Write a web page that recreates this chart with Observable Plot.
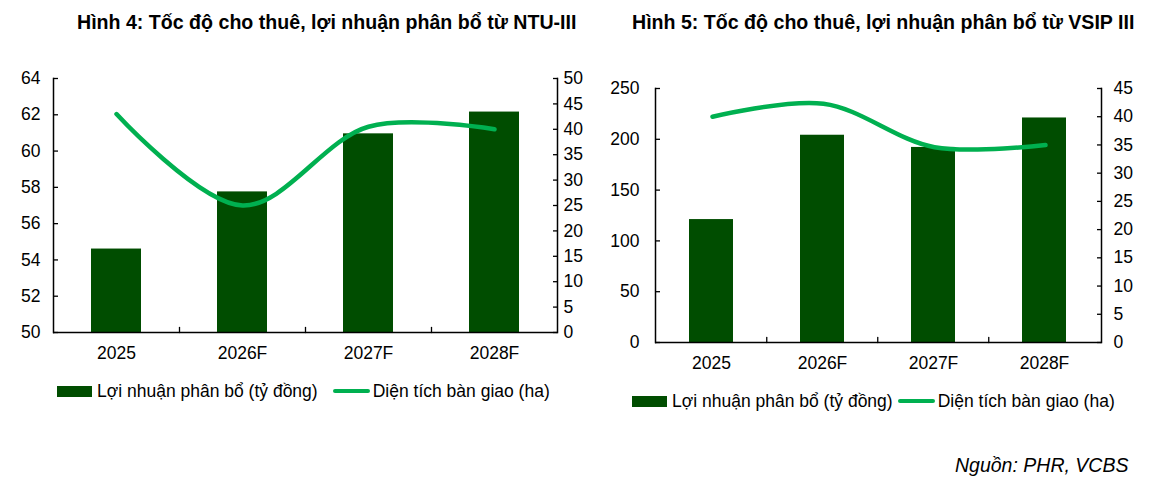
<!DOCTYPE html>
<html><head><meta charset="utf-8">
<script src="https://cdn.jsdelivr.net/npm/d3@7"></script>
<script src="https://cdn.jsdelivr.net/npm/@observablehq/plot@0.6"></script>
<style>
body{margin:0;background:#fff;}
#root{position:relative;width:1153px;height:487px;font-family:"Liberation Sans",Arial,sans-serif;color:#000;overflow:hidden;background:#fff}
.abs{position:absolute}
.title{font-weight:bold;font-size:19.6px;white-space:nowrap;line-height:22px}
.legend{display:flex;align-items:center;font-size:17.5px;white-space:nowrap;height:22px}
.sw-bar{width:35px;height:11px;background:#004d00;margin-right:5px}
.sw-line{width:37px;height:4px;background:#00b050;margin-right:3px;border-radius:2px}
.src{font-style:italic;font-size:19.5px;white-space:nowrap}
svg{overflow:visible}
</style></head><body><div id="root"></div>
<script>
const years = ["2025", "2026F", "2027F", "2028F"];
const ntuProfit = [54.6, 57.75, 60.95, 62.15];
const ntuArea = [43, 25, 40.5, 40];
const vsipProfit = [121, 204, 192, 221];
const vsipArea = [40, 42.3, 34.6, 35];
const ntuLeftTicks = [50, 52, 54, 56, 58, 60, 62, 64];
const ntuRightTicks = [0, 5, 10, 15, 20, 25, 30, 35, 40, 45, 50];
const vsipLeftTicks = [0, 50, 100, 150, 200, 250];
const vsipRightTicks = [0, 5, 10, 15, 20, 25, 30, 35, 40, 45];
const titles = ["Hình 4: Tốc độ cho thuê, lợi nhuận phân bổ từ NTU-III", "Hình 5: Tốc độ cho thuê, lợi nhuận phân bổ từ VSIP III"];
const legendBar = "Lợi nhuận phân bổ (tỷ đồng)";
const legendLine = "Diện tích bàn giao (ha)";
const source = "Nguồn: PHR, VCBS";

const BAR = "#004d00", LINE = "#00b050";
const root = document.getElementById("root");

const tickShape = {draw(ctx, l) { ctx.moveTo(0, 0); ctx.lineTo(0, -l); }};

function chart(cfg) {
  const rows = years.map((y, i) => ({year: y, profit: cfg.profit[i], area: cfg.area[i]}));
  const common = {
    width: cfg.width, height: cfg.height,
    marginLeft: cfg.ml, marginRight: cfg.mr, marginTop: cfg.mt, marginBottom: cfg.mb,
    style: {fontSize: "17.5px", fontFamily: "'Liberation Sans', Arial, sans-serif", color: "#000", background: "transparent", overflow: "visible"}
  };
  const step = (cfg.width - cfg.ml - cfg.mr) / years.length;
  const y0 = cfg.leftTicks[0];
  const p1 = Plot.plot({
    ...common,
    x: {domain: years, paddingInner: 0.6, paddingOuter: 0.3, label: null},
    y: {domain: [y0, cfg.leftTicks[cfg.leftTicks.length - 1]], label: null},
    marks: [
      Plot.barY(rows, {x: "year", y1: y0, y2: "profit", fill: BAR}),
      Plot.axisY(cfg.leftTicks, {anchor: "left", label: null, tickSize: -5, tickPadding: cfg.lpad, strokeWidth: 1.3, tickFormat: d => String(d)}),
      Plot.axisX({label: null, tickSize: 0, tickPadding: 14}),
      Plot.ruleY([y0], {stroke: "#000", strokeWidth: 1.5}),
      Plot.frame({anchor: "left", stroke: "#000", strokeWidth: 1.5}),
      Plot.vector(years.slice(1), {x: d => d, y: y0, length: 5, rotate: 0, anchor: "start", dx: -step / 2, shape: tickShape, stroke: "#000", strokeWidth: 1.3})
    ]
  });
  const p2 = Plot.plot({
    ...common,
    x: {domain: years, paddingInner: 0.6, paddingOuter: 0.3, axis: null, label: null},
    y: {domain: [cfg.rightTicks[0], cfg.rightTicks[cfg.rightTicks.length - 1]], label: null},
    marks: [
      Plot.line(rows, {x: "year", y: "area", curve: "catmull-rom", stroke: LINE, strokeWidth: 4.5}),
      Plot.axisY(cfg.rightTicks, {anchor: "right", label: null, tickSize: -5, tickPadding: cfg.rpad, strokeWidth: 1.3, tickFormat: d => String(d)}),
      Plot.frame({anchor: "right", stroke: "#000", strokeWidth: 1.5})
    ]
  });
  for (const p of [p1, p2]) {
    p.classList.add("abs");
    p.style.left = cfg.left + "px";
    p.style.top = cfg.top + "px";
    root.appendChild(p);
  }
}

chart({left: 0, top: 0, width: 580, height: 360, ml: 53, mr: 23, mt: 78, mb: 28,
  profit: ntuProfit, area: ntuArea, leftTicks: ntuLeftTicks, rightTicks: ntuRightTicks, lpad: 18, rpad: 11});
chart({left: 580, top: 0, width: 573, height: 370, ml: 75, mr: 52, mt: 88, mb: 28,
  profit: vsipProfit, area: vsipArea, leftTicks: vsipLeftTicks, rightTicks: vsipRightTicks, lpad: 21, rpad: 17});

function addTitle(text, left, top) {
  const d = document.createElement("div");
  d.className = "abs title"; d.textContent = text;
  d.style.left = left + "px"; d.style.top = top + "px";
  root.appendChild(d);
}
addTitle(titles[0], 77, 11);
addTitle(titles[1], 632, 11);

function addLegend(left, top, gap) {
  const d = document.createElement("div");
  d.className = "abs legend";
  d.style.left = left + "px"; d.style.top = top + "px";
  d.innerHTML = `<span class="sw-bar"></span><span>${legendBar}</span><span class="sw-line" style="margin-left:${gap}px"></span><span>${legendLine}</span>`;
  root.appendChild(d);
}
addLegend(57, 380, 15);
addLegend(632, 390, 5);

const s = document.createElement("div");
s.className = "abs src"; s.textContent = source;
s.style.left = "955px"; s.style.top = "454px";
root.appendChild(s);
</script></body></html>
